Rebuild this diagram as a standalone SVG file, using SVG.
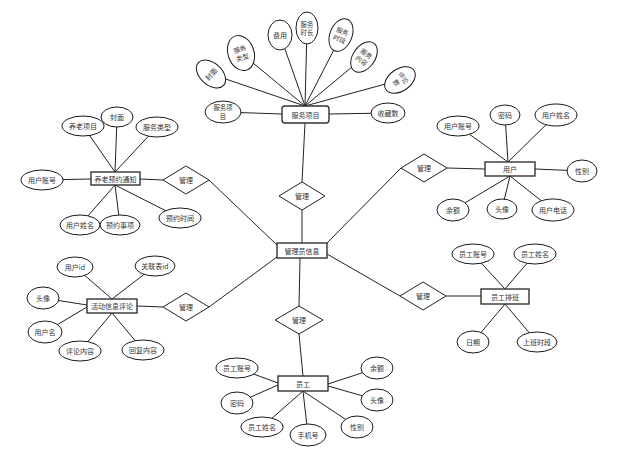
<svg xmlns="http://www.w3.org/2000/svg" width="639" height="456" viewBox="0 0 639 456">
<style>
.bg{fill:#fff}
#connectors line{stroke:#222;stroke-width:1}
.a ellipse{fill:#fff;stroke:#1a1a1a;stroke-width:1}
.e rect{fill:#fff;stroke:#333;stroke-width:1.4}
.r polygon{fill:#fff;stroke:#222;stroke-width:1}
text{font-family:"Noto Sans CJK SC","Noto Sans",sans-serif;font-size:7px;fill:#333;text-anchor:middle;dominant-baseline:central}
.s{font-size:6.4px}
</style>
<rect class="bg" x="0" y="0" width="639" height="456"/>
<g id="connectors">
<line x1="305" y1="106" x2="211" y2="74"/>
<line x1="305" y1="106" x2="241" y2="53"/>
<line x1="305" y1="106" x2="280" y2="35"/>
<line x1="305" y1="106" x2="307" y2="28"/>
<line x1="305" y1="106" x2="342" y2="34"/>
<line x1="305" y1="106" x2="364" y2="57"/>
<line x1="305" y1="106" x2="400" y2="80"/>
<line x1="282" y1="114" x2="223" y2="112"/>
<line x1="329" y1="114" x2="388" y2="113"/>
<line x1="305" y1="123" x2="302" y2="182"/>
<line x1="115" y1="172" x2="83" y2="126"/>
<line x1="115" y1="172" x2="117" y2="118"/>
<line x1="115" y1="172" x2="157" y2="127"/>
<line x1="91" y1="179" x2="42" y2="180"/>
<line x1="115" y1="185" x2="80" y2="225"/>
<line x1="115" y1="185" x2="120" y2="225"/>
<line x1="115" y1="185" x2="180" y2="218"/>
<line x1="140" y1="179" x2="163" y2="180"/>
<line x1="209" y1="180" x2="277" y2="245"/>
<line x1="302" y1="210" x2="302" y2="243"/>
<line x1="327" y1="243" x2="401" y2="168"/>
<line x1="327" y1="254" x2="400" y2="296"/>
<line x1="300" y1="258" x2="299" y2="306"/>
<line x1="209" y1="307" x2="277" y2="257"/>
<line x1="447" y1="168" x2="485" y2="169"/>
<line x1="508" y1="162" x2="458" y2="126"/>
<line x1="508" y1="162" x2="505" y2="115"/>
<line x1="508" y1="162" x2="556" y2="115"/>
<line x1="535" y1="169" x2="582" y2="171"/>
<line x1="510" y1="176" x2="453" y2="210"/>
<line x1="510" y1="176" x2="502" y2="209"/>
<line x1="510" y1="176" x2="553" y2="210"/>
<line x1="137" y1="306" x2="163" y2="307"/>
<line x1="112" y1="299" x2="75" y2="267"/>
<line x1="112" y1="299" x2="155" y2="266"/>
<line x1="87" y1="305" x2="43" y2="298"/>
<line x1="87" y1="307" x2="45" y2="332"/>
<line x1="112" y1="313" x2="80" y2="351"/>
<line x1="112" y1="313" x2="143" y2="350"/>
<line x1="446" y1="296" x2="481" y2="296"/>
<line x1="505" y1="289" x2="473" y2="254"/>
<line x1="505" y1="289" x2="535" y2="254"/>
<line x1="505" y1="304" x2="473" y2="342"/>
<line x1="505" y1="304" x2="537" y2="342"/>
<line x1="299" y1="334" x2="303" y2="376"/>
<line x1="278" y1="383" x2="237" y2="368"/>
<line x1="278" y1="385" x2="237" y2="403"/>
<line x1="303" y1="391" x2="262" y2="427"/>
<line x1="303" y1="391" x2="308" y2="435"/>
<line x1="303" y1="391" x2="357" y2="427"/>
<line x1="328" y1="384" x2="377" y2="368"/>
<line x1="328" y1="386" x2="377" y2="400"/>
</g>

<!-- 服务项目 -->
<g id="fuwuxiangmu">
<g class="e"><rect x="282" y="106" width="47" height="17" rx="3"/></g>
<text x="305.5" y="114.5">服务项目</text>
<g class="a">
<g transform="translate(211,74) rotate(-48)"><ellipse rx="11" ry="17"/><text x="0" y="0">封面</text></g>
<g transform="translate(241,53) rotate(-18)"><ellipse rx="13" ry="18"/><text class="s" x="0" y="-4">服务</text><text class="s" x="0" y="4.5">类型</text></g>
<g transform="translate(280,35)"><ellipse rx="12" ry="15"/><text x="0" y="0">费用</text></g>
<g transform="translate(307,28)"><ellipse rx="11" ry="16"/><text class="s" x="0" y="-4">服务</text><text class="s" x="0" y="4.5">时长</text></g>
<g transform="translate(341,35) rotate(22)"><ellipse rx="11" ry="17"/><text class="s" x="0" y="-4">服务</text><text class="s" x="0" y="4.5">时段</text></g>
<g transform="translate(364,57) rotate(35)"><ellipse rx="11" ry="17"/><text class="s" x="0" y="-4">服务</text><text class="s" x="0" y="4.5">内容</text></g>
<g transform="translate(400,80) rotate(55)"><ellipse rx="11" ry="17"/><text class="s" x="0" y="-4">评论</text><text class="s" x="0" y="4.5">数</text></g>
<g transform="translate(223,112)"><ellipse rx="18" ry="11"/><text class="s" x="0" y="-4.3">服务项</text><text class="s" x="0" y="4.3">目</text></g>
<g transform="translate(388,113)"><ellipse rx="17" ry="10"/><text x="0" y="0">收藏数</text></g>
</g>
</g>

<!-- 养老预约通知 -->
<g id="yuyue">
<g class="e"><rect x="91" y="172" width="49" height="13"/></g>
<text x="115.5" y="178.5">养老预约通知</text>
<g class="a">
<ellipse cx="83" cy="126" rx="21" ry="10"/><text x="83" y="126">养老项目</text>
<ellipse cx="117" cy="117" rx="16" ry="10"/><text x="117" y="117">封面</text>
<ellipse cx="157" cy="127" rx="21" ry="10"/><text x="157" y="127">服务类型</text>
<ellipse cx="42" cy="180" rx="21" ry="10"/><text x="42" y="180">用户账号</text>
<ellipse cx="80" cy="225" rx="20" ry="10"/><text x="80" y="225">用户姓名</text>
<ellipse cx="120" cy="225" rx="20" ry="10"/><text x="120" y="225">预约事项</text>
<ellipse cx="180" cy="218" rx="21" ry="10"/><text x="180" y="218">预约时间</text>
</g>
<g class="r"><polygon points="163,180 186,166 209,180 186,194"/></g>
<text x="186" y="180">管理</text>
</g>

<!-- 管理员信息 -->
<g id="admin">
<g class="e"><rect x="277" y="243" width="50" height="15"/></g>
<text x="302" y="250.5">管理员信息</text>
<g class="r"><polygon points="279,196 302,182 325,196 302,210"/></g>
<text x="302" y="196">管理</text>
</g>

<!-- 用户 -->
<g id="yonghu">
<g class="r"><polygon points="401,168 424,154 447,168 424,182"/></g>
<text x="424" y="168">管理</text>
<g class="e"><rect x="485" y="162" width="50" height="14"/></g>
<text x="510" y="169">用户</text>
<g class="a">
<ellipse cx="458" cy="126" rx="21" ry="10"/><text x="458" y="126">用户账号</text>
<ellipse cx="505" cy="115" rx="15" ry="10"/><text x="505" y="115">密码</text>
<ellipse cx="556" cy="115" rx="21" ry="11"/><text x="556" y="115">用户姓名</text>
<ellipse cx="582" cy="171" rx="15" ry="11"/><text x="582" y="171">性别</text>
<ellipse cx="553" cy="210" rx="21" ry="11"/><text x="553" y="210">用户电话</text>
<ellipse cx="502" cy="209" rx="15" ry="10"/><text x="502" y="209">头像</text>
<ellipse cx="453" cy="210" rx="16" ry="11"/><text x="453" y="210">余额</text>
</g>
</g>

<!-- 活动信息评论 -->
<g id="pinglun">
<g class="e"><rect x="87" y="299" width="50" height="14"/></g>
<text x="112" y="306">活动信息评论</text>
<g class="r"><polygon points="163,307 186,293 209,307 186,321"/></g>
<text x="186" y="307">管理</text>
<g class="a">
<ellipse cx="75" cy="267" rx="18" ry="10"/><text x="75" y="267">用户id</text>
<ellipse cx="155" cy="266" rx="20" ry="10"/><text x="155" y="266">关联表id</text>
<ellipse cx="43" cy="298" rx="16" ry="11"/><text x="43" y="298">头像</text>
<ellipse cx="45" cy="332" rx="17" ry="11"/><text x="45" y="332">用户名</text>
<ellipse cx="80" cy="351" rx="21" ry="10"/><text x="80" y="351">评论内容</text>
<ellipse cx="143" cy="350" rx="21" ry="10"/><text x="143" y="350">回复内容</text>
</g>
</g>

<!-- 员工排班 -->
<g id="paiban">
<g class="r"><polygon points="400,296 423,282 446,296 423,310"/></g>
<text x="423" y="296">管理</text>
<g class="e"><rect x="481" y="289" width="48" height="15"/></g>
<text x="505" y="296.5">员工排班</text>
<g class="a">
<ellipse cx="473" cy="254" rx="21" ry="10"/><text x="473" y="254">员工账号</text>
<ellipse cx="535" cy="254" rx="21" ry="10"/><text x="535" y="254">员工姓名</text>
<ellipse cx="473" cy="342" rx="16" ry="11"/><text x="473" y="342">日期</text>
<ellipse cx="537" cy="342" rx="20" ry="10"/><text x="537" y="342">上班时段</text>
</g>
</g>

<!-- 员工 -->
<g id="yuangong">
<g class="r"><polygon points="275,320 299,306 323,320 299,334"/></g>
<text x="299" y="320">管理</text>
<g class="e"><rect x="278" y="376" width="50" height="15"/></g>
<text x="303" y="383.5">员工</text>
<g class="a">
<ellipse cx="237" cy="368" rx="21" ry="10"/><text x="237" y="368">员工账号</text>
<ellipse cx="237" cy="403" rx="16" ry="11"/><text x="237" y="403">密码</text>
<ellipse cx="262" cy="427" rx="21" ry="10"/><text x="262" y="427">员工姓名</text>
<ellipse cx="308" cy="435" rx="18" ry="11"/><text x="308" y="435">手机号</text>
<ellipse cx="357" cy="427" rx="16" ry="11"/><text x="357" y="427">性别</text>
<ellipse cx="377" cy="400" rx="16" ry="11"/><text x="377" y="400">头像</text>
<ellipse cx="377" cy="368" rx="16" ry="11"/><text x="377" y="368">余额</text>
</g>
</g>
</svg>
